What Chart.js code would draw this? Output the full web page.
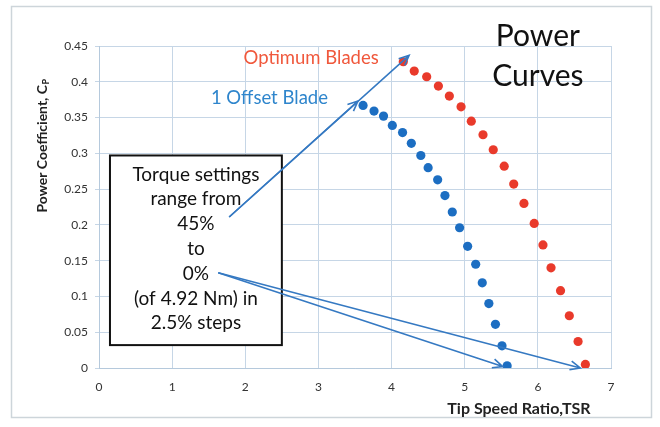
<!DOCTYPE html>
<html>
<head>
<meta charset="utf-8">
<script src="https://cdn.jsdelivr.net/npm/chart.js@4/dist/chart.umd.min.js"></script>
<style>
  body { margin: 0; background: #fff; }
  canvas { display: block; }
</style>
</head>
<body>
<canvas id="chart" width="660" height="427"></canvas>
<script>
// Tip speed ratio / power coefficient
const optimumTsr = [4.16, 4.31, 4.48, 4.64, 4.79, 4.95, 5.09, 5.25, 5.39, 5.54, 5.67, 5.81, 5.95, 6.07, 6.18, 6.31, 6.43, 6.55, 6.65]
const optimumCp = [0.428, 0.415, 0.407, 0.394, 0.380, 0.365, 0.345, 0.326, 0.305, 0.282, 0.257, 0.230, 0.202, 0.172, 0.140, 0.108, 0.073, 0.037, 0.005]
const offsetTsr = [3.61, 3.76, 3.89, 4.01, 4.15, 4.27, 4.40, 4.50, 4.63, 4.73, 4.83, 4.93, 5.04, 5.15, 5.24, 5.33, 5.42, 5.51, 5.58]
const offsetCp = [0.367, 0.359, 0.352, 0.339, 0.329, 0.314, 0.297, 0.280, 0.263, 0.241, 0.218, 0.196, 0.170, 0.145, 0.119, 0.090, 0.061, 0.031, 0.003]

const xTicks = [0, 1, 2, 3, 4, 5, 6, 7]
const yTicks = [0, 0.05, 0.1, 0.15, 0.2, 0.25, 0.3, 0.35, 0.4, 0.45]

const boxLines = ['Torque settings', 'range from', '45%', 'to', '0%', '(of 4.92 Nm) in', '2.5% steps']

const FONT = 'Lato, "Open Sans", sans-serif'
const gridColor = '#c6d6e6'
const arrowColor = '#3579c2'

function toPoints(xs, ys) {
  return xs.map((x, i) => ({ x: x, y: ys[i] }))
}

function arrow(ctx, x1, y1, x2, y2) {
  const a = Math.atan2(y2 - y1, x2 - x1)
  const len = 11, spread = 0.42
  ctx.beginPath()
  ctx.moveTo(x1, y1)
  ctx.lineTo(x2, y2)
  ctx.moveTo(x2 - len * Math.cos(a - spread), y2 - len * Math.sin(a - spread))
  ctx.lineTo(x2, y2)
  ctx.lineTo(x2 - len * Math.cos(a + spread), y2 - len * Math.sin(a + spread))
  ctx.stroke()
}

const annotate = {
  id: 'annotate',
  beforeDraw(chart) {
    const ctx = chart.ctx
    ctx.save()
    ctx.fillStyle = '#fff'
    ctx.fillRect(0, 0, chart.width, chart.height)
    ctx.strokeStyle = '#cdd5da'
    ctx.lineWidth = 1.5
    ctx.strokeRect(11.5, 6.5, 640, 411)
    ctx.restore()
  },
  afterDatasetsDraw(chart) {
    const ctx = chart.ctx
    const xs = chart.scales.x, ys = chart.scales.y
    const px = v => xs.getPixelForValue(v)
    const py = v => ys.getPixelForValue(v)
    ctx.save()

    // y axis title with subscript
    ctx.save()
    ctx.translate(42, 146)
    ctx.rotate(-Math.PI / 2)
    ctx.fillStyle = '#222'
    ctx.font = 'bold 14px ' + FONT
    const main = 'Power Coefficient, C'
    const wMain = ctx.measureText(main).width
    ctx.font = 'bold 9px ' + FONT
    const wSub = ctx.measureText('P').width
    const start = -(wMain + wSub) / 2
    ctx.textBaseline = 'middle'
    ctx.textAlign = 'left'
    ctx.font = 'bold 14px ' + FONT
    ctx.fillText(main, start, 0)
    ctx.font = 'bold 9px ' + FONT
    ctx.fillText('P', start + wMain + 0.5, 4)
    ctx.restore()

    // x axis title
    ctx.textAlign = 'center'
    ctx.textBaseline = 'middle'
    ctx.fillStyle = '#222'
    ctx.font = 'bold 16px ' + FONT
    ctx.fillText('Tip Speed Ratio,TSR', 519, 409)

    // series labels
    ctx.font = '18.5px ' + FONT
    ctx.fillStyle = '#f0583c'
    ctx.fillText('Optimum Blades', px(2.9), py(0.433))
    ctx.fillStyle = '#2e85cc'
    ctx.fillText('1 Offset Blade', px(2.33), py(0.377))

    // title
    ctx.fillStyle = '#111'
    ctx.font = '30px ' + FONT
    ctx.textBaseline = 'alphabetic'
    ctx.fillText('Power', px(6.0), 46)
    ctx.fillText('Curves', px(6.0), 86)

    // text box
    const bx = px(0.15), by = py(0.297), bw = px(2.5) - px(0.15), bh = py(0.032) - py(0.297)
    ctx.fillStyle = '#fff'
    ctx.fillRect(bx, by, bw, bh)
    ctx.strokeStyle = '#111'
    ctx.lineWidth = 2
    ctx.strokeRect(bx, by, bw, bh)
    ctx.fillStyle = '#111'
    ctx.font = '19px ' + FONT
    ctx.textBaseline = 'middle'
    boxLines.forEach((t, i) => {
      ctx.fillText(t, bx + bw / 2, by + 19 + i * 24.8)
    })

    // arrows
    ctx.strokeStyle = arrowColor
    ctx.lineWidth = 1.6
    arrow(ctx, px(1.78), py(0.211), px(4.24), py(0.437))
    arrow(ctx, px(1.78), py(0.211), px(3.54), py(0.373))
    arrow(ctx, px(1.63), py(0.133), px(5.52), py(0.002))
    arrow(ctx, px(1.63), py(0.133), px(6.58), py(0.0))

    ctx.restore()
  }
}

new Chart(document.getElementById('chart'), {
  type: 'scatter',
  data: {
    datasets: [{
      label: 'Optimum Blades',
      data: toPoints(optimumTsr, optimumCp),
      backgroundColor: '#e93a2b',
      borderWidth: 0,
      pointRadius: 4.6
    }, {
      label: '1 Offset Blade',
      data: toPoints(offsetTsr, offsetCp),
      backgroundColor: '#1c6ec2',
      borderWidth: 0,
      pointRadius: 4.6
    }]
  },
  options: {
    responsive: false,
    animation: false,
    layout: { padding: { left: 0, right: 49, top: 46, bottom: 0 } },
    plugins: {
      legend: { display: false },
      tooltip: { enabled: false }
    },
    scales: {
      x: {
        type: 'linear',
        min: 0,
        max: 7,
        afterBuildTicks: axis => { axis.ticks = xTicks.map(v => ({ value: v })) },
        afterFit: axis => { axis.height = 59 },
        grid: { color: gridColor, drawTicks: false },
        border: { color: '#b5c9dc' },
        ticks: { padding: 12, color: '#333', font: { family: FONT, size: 12 } }
      },
      y: {
        type: 'linear',
        min: 0,
        max: 0.45,
        afterBuildTicks: axis => { axis.ticks = yTicks.map(v => ({ value: v })) },
        afterFit: axis => { axis.width = 99 },
        grid: { color: gridColor, tickLength: 4 },
        border: { color: '#b5c9dc' },
        ticks: {
          padding: 7,
          color: '#333',
          font: { family: FONT, size: 12 },
          callback: v => +v.toFixed(2)
        }
      }
    }
  },
  plugins: [annotate]
})
</script>
</body>
</html>
